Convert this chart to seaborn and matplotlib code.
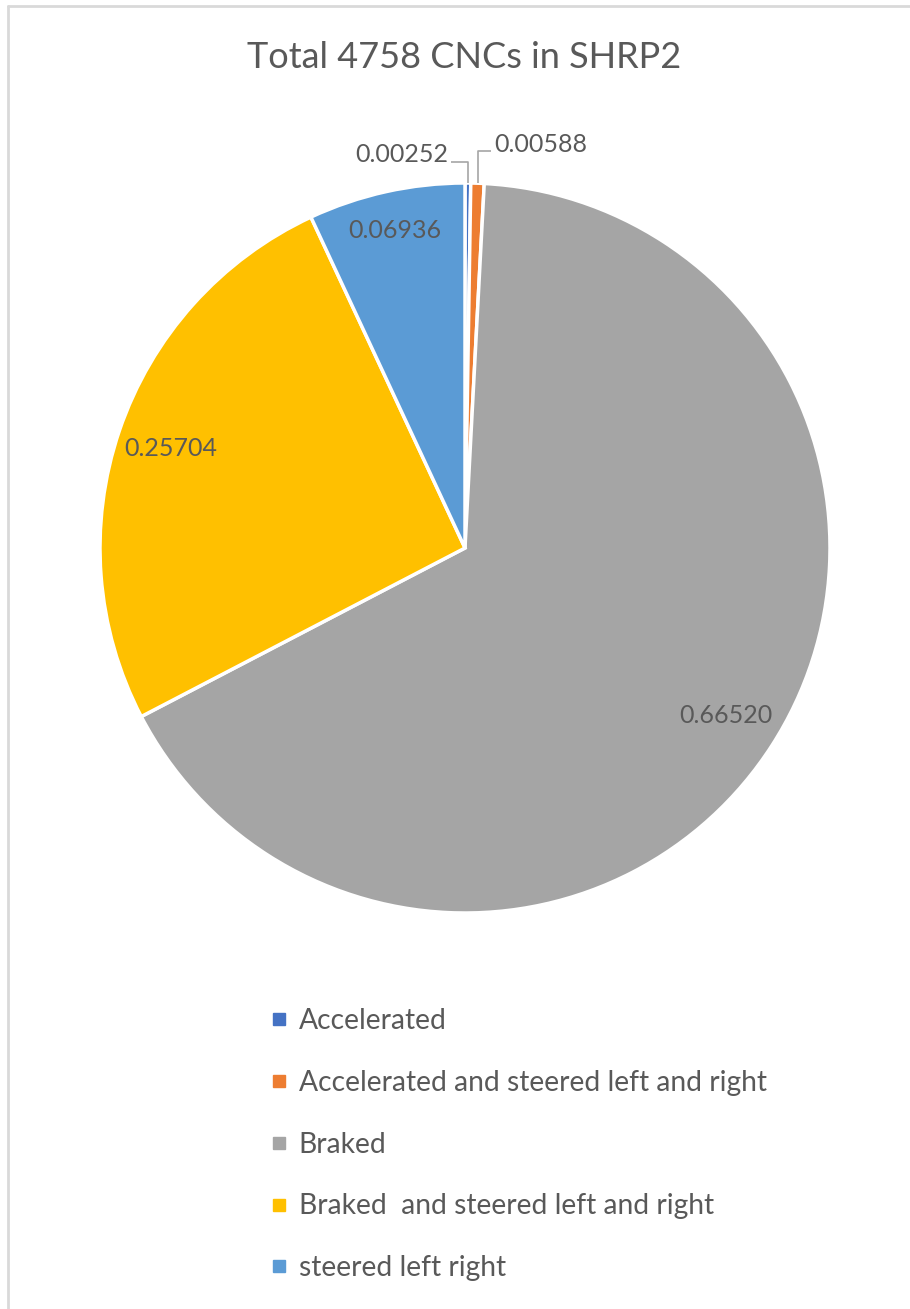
import matplotlib
matplotlib.use("Agg")
import matplotlib.pyplot as plt
from matplotlib.lines import Line2D
import numpy as np
import seaborn as sns

sns.set_theme(style="white")
plt.rcParams['font.family'] = ['Lato', 'DejaVu Sans']

title = "Total 4758 CNCs in SHRP2"
categories = ["Accelerated",
              "Accelerated and steered left and right",
              "Braked",
              "Braked  and steered left and right",
              "steered left right"]
values = [0.00252, 0.00588, 0.66520, 0.25704, 0.06936]
value_labels = ["0.00252", "0.00588", "0.66520", "0.25704", "0.06936"]
colors = ["#4472C4", "#ED7D31", "#A5A5A5", "#FFC000", "#5B9BD5"]

TXT = "#595959"
W, H = 910, 1309
fig = plt.figure(figsize=(W / 100, H / 100), dpi=100)
fig.patch.set_facecolor("white")

# pie axes: center (465,548) px, radius 365 px
cx, cy, R = 465, 548, 365
ax = fig.add_axes([(cx - R) / W, (H - cy - R) / H, 2 * R / W, 2 * R / H])

wedges, _ = ax.pie(values, colors=colors, startangle=90, counterclock=False,
                   radius=1.0, center=(0, 0),
                   wedgeprops=dict(edgecolor="white", linewidth=2.5))
ax.set_xlim(-1, 1)
ax.set_ylim(-1, 1)
ax.set_aspect("equal")
ax.axis("off")

# inside labels for the three large slices
inside_dist = {2: 0.85, 3: 0.85, 4: 0.89}
for i, d in inside_dist.items():
    w = wedges[i]
    mid = np.deg2rad((w.theta1 + w.theta2) / 2)
    ax.text(d * np.cos(mid), d * np.sin(mid), value_labels[i], ha="center",
            va="center", fontsize=18, color=TXT)

# outside labels with elbow leader lines for the two tiny slices
def px(x, y):
    return (x - cx) / R, (cy - y) / R

for i, (tx, ty, ha, top_y, end_x) in {
        0: (448, 155, "right", 162, 451),
        1: (494, 145, "left", 151, 491)}.items():
    w = wedges[i]
    mid = np.deg2rad((w.theta1 + w.theta2) / 2)
    sx, sy = np.cos(mid), np.sin(mid)
    _, ly = px(0, top_y)
    ex, _ = px(end_x, 0)
    ax.plot([sx, sx, ex], [sy, ly, ly], color="#A6A6A6", lw=1.2,
            solid_capstyle="butt", clip_on=False)
    x, y = px(tx, ty)
    ax.text(x, y, value_labels[i], ha=ha, va="center", fontsize=18,
            color=TXT, clip_on=False)

fig.text(464 / W, 1 - 58 / H, title, ha="center", va="center",
         fontsize=26, color=TXT)

handles = [Line2D([], [], marker="s", linestyle="none", markersize=9,
                  markerfacecolor=c, markeredgecolor=c) for c in colors]
leg = fig.legend(handles, categories, loc="upper left",
                 bbox_to_anchor=(272 / W, 1 - 1008 / H), frameon=False,
                 fontsize=20.3, labelcolor=TXT, handlelength=0.5,
                 handletextpad=0.45, labelspacing=1.27, borderpad=0,
                 borderaxespad=0)

# cropped chart border (left and top edges)
fig.add_artist(Line2D([8 / W, 8 / W], [0, 1 - 6 / H], color="#D9D9D9", lw=2,
                      transform=fig.transFigure))
fig.add_artist(Line2D([8 / W, 1], [1 - 6 / H, 1 - 6 / H], color="#D9D9D9",
                      lw=2, transform=fig.transFigure))

fig.savefig("out.png", dpi=100)
